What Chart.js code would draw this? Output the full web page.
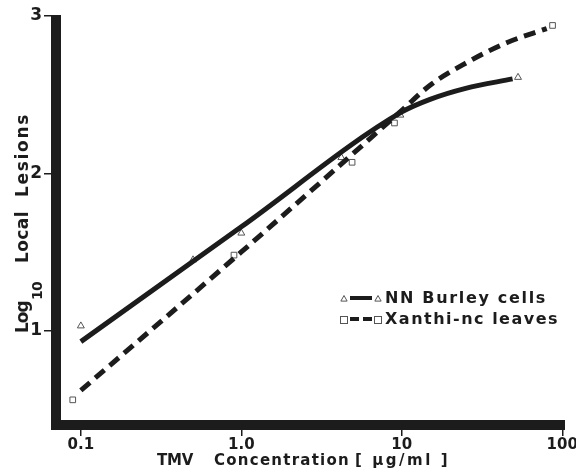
<!DOCTYPE html>
<html>
<head>
<meta charset="utf-8">
<script src="https://cdn.jsdelivr.net/npm/chart.js@4/dist/chart.umd.min.js"></script>
<style>
  html, body { margin: 0; background: #fff; }
</style>
</head>
<body>
<canvas id="chart" width="576" height="473"></canvas>
<script>
// measured points (TMV concentration, log10 lesions)
const burleyConc = [0.1, 0.5, 1.0, 4.2, 9.8, 53];
const burleyLog = [1.03, 1.45, 1.62, 2.10, 2.37, 2.61];
const xanthiConc = [0.089, 0.9, 4.9, 9.0, 87];
const xanthiLog = [0.56, 1.48, 2.07, 2.32, 2.94];

// hand-drawn fitted curves, knots
const burleyFitConc = [0.1, 1.0, 10, 15, 25, 49];
const burleyFitLog = [0.93, 1.66, 2.39, 2.47, 2.54, 2.60];
const xanthiFitConc = [0.1, 1.0, 10, 15, 25, 45, 80];
const xanthiFitLog = [0.62, 1.50, 2.40, 2.56, 2.70, 2.83, 2.92];

const xTicks = [0.1, 1, 10, 100];
const xTickLabels = ["0.1", "1.0", "10", "100"];
const yTicks = [1, 2, 3];

const INK = "#1c1c1c";
const FONT = "'DejaVu Sans', 'Open Sans', sans-serif";

const pts = (xs, ys) => xs.map((x, i) => ({ x, y: ys[i] }));

// thick L-shaped frame like the printed figure
const frame = {
  id: "frame",
  beforeDatasetsDraw(chart) {
    const { ctx, chartArea: a } = chart;
    ctx.save();
    ctx.strokeStyle = INK;
    ctx.lineWidth = 10;
    ctx.lineJoin = "miter";
    ctx.lineCap = "butt";
    ctx.beginPath();
    ctx.moveTo(a.left, a.top - 1);
    ctx.lineTo(a.left, a.bottom);
    ctx.lineTo(a.right, a.bottom);
    ctx.stroke();
    ctx.restore();
  },
};

// write text stretched by letter spacing to roughly the printed width
function fitText(ctx, txt, x, y, width) {
  ctx.letterSpacing = "0px";
  const natural = ctx.measureText(txt).width;
  const sp = Math.max(-1, (width - natural) / txt.length);
  ctx.letterSpacing = sp.toFixed(2) + "px";
  ctx.fillText(txt, x, y);
  ctx.letterSpacing = "0px";
}

const titles = {
  id: "titles",
  afterDraw(chart) {
    const { ctx } = chart;
    ctx.save();
    ctx.fillStyle = INK;
    ctx.textBaseline = "alphabetic";
    ctx.textAlign = "left";

    // x title
    ctx.font = `bold 15px ${FONT}`;
    fitText(ctx, "TMV", 157, 465, 36);
    fitText(ctx, "Concentration", 214, 465, 136);
    fitText(ctx, "[ \u00b5g/ml ]", 355, 465, 95);

    // y title: Log10 Local Lesions, rotated
    ctx.translate(28, 333);
    ctx.rotate(-Math.PI / 2);
    ctx.font = `bold 17px ${FONT}`;
    fitText(ctx, "Log", 0, 0, 30);
    ctx.font = `bold 14px ${FONT}`;
    fitText(ctx, "10", 33, 14, 18);
    ctx.font = `bold 17px ${FONT}`;
    fitText(ctx, "Local", 70, 0, 52);
    fitText(ctx, "Lesions", 136, 0, 84);
    ctx.restore();
  },
};

function triangle(ctx, x, y, r) {
  ctx.beginPath();
  ctx.moveTo(x, y - r);
  ctx.lineTo(x + r * 0.9, y + r * 0.6);
  ctx.lineTo(x - r * 0.9, y + r * 0.6);
  ctx.closePath();
  ctx.fill();
  ctx.stroke();
}

function square(ctx, x, y, r) {
  ctx.fillRect(x - r, y - r, 2 * r, 2 * r);
  ctx.strokeRect(x - r, y - r, 2 * r, 2 * r);
}

const keyBox = {
  id: "keyBox",
  afterDraw(chart) {
    const { ctx } = chart;
    const rows = [
      { y: 298, label: "NN Burley cells", width: 162, mark: triangle, dash: [] },
      { y: 319, label: "Xanthi-nc leaves", width: 174, mark: square, dash: [9, 4] },
    ];
    ctx.save();
    rows.forEach((r) => {
      ctx.strokeStyle = INK;
      ctx.lineWidth = 4;
      ctx.setLineDash(r.dash);
      ctx.beginPath();
      ctx.moveTo(350, r.y);
      ctx.lineTo(372, r.y);
      ctx.stroke();
      ctx.setLineDash([]);
      ctx.fillStyle = "#fff";
      ctx.strokeStyle = "#555";
      ctx.lineWidth = 1;
      r.mark(ctx, 344, r.y + 1, 3.5);
      r.mark(ctx, 378, r.y + 1, 3.5);
      ctx.fillStyle = INK;
      ctx.font = `bold 16px ${FONT}`;
      ctx.textBaseline = "middle";
      fitText(ctx, r.label, 385, r.y + 1, r.width);
    });
    ctx.restore();
  },
};

new Chart(document.getElementById("chart"), {
  type: "scatter",
  data: {
    datasets: [
      {
        label: "NN Burley fit",
        data: pts(burleyFitConc, burleyFitLog),
        showLine: true,
        borderColor: INK,
        borderWidth: 5,
        pointRadius: 0,
        cubicInterpolationMode: "monotone",
      },
      {
        label: "Xanthi-nc fit",
        data: pts(xanthiFitConc, xanthiFitLog),
        showLine: true,
        borderColor: INK,
        borderWidth: 5,
        borderDash: [12, 7],
        pointRadius: 0,
        cubicInterpolationMode: "monotone",
      },
      {
        label: "NN Burley cells",
        data: pts(burleyConc, burleyLog),
        pointStyle: "triangle",
        pointRadius: 4,
        borderWidth: 1,
        borderColor: "#555",
        backgroundColor: "#fff",
      },
      {
        label: "Xanthi-nc leaves",
        data: pts(xanthiConc, xanthiLog),
        pointStyle: "rect",
        pointRadius: 4,
        borderWidth: 1,
        borderColor: "#555",
        backgroundColor: "#fff",
      },
    ],
  },
  options: {
    responsive: false,
    animation: false,
    layout: { padding: { top: 16, right: 11, left: 0, bottom: 0 } },
    plugins: { legend: { display: false }, tooltip: { enabled: false } },
    scales: {
      x: {
        type: "logarithmic",
        min: 0.07,
        max: 104,
        afterBuildTicks: (s) => { s.ticks = xTicks.map((v) => ({ value: v })); },
        afterFit: (s) => { s.height = 48; s.paddingLeft = 0; s.paddingRight = 0; },
        border: { display: false },
        grid: { drawOnChartArea: false, drawTicks: true, tickLength: 11, color: INK, lineWidth: 1.5 },
        ticks: {
          autoSkip: false,
          maxRotation: 0,
          padding: 0,
          color: INK,
          font: { family: FONT, size: 15, weight: "bold" },
          callback: (v, i) => xTickLabels[i],
        },
      },
      y: {
        min: 0.4,
        max: 3.0,
        afterBuildTicks: (s) => { s.ticks = yTicks.map((v) => ({ value: v })); },
        afterFit: (s) => { s.width = 56; },
        border: { display: false },
        grid: { drawOnChartArea: false, drawTicks: true, tickLength: 12, color: INK, lineWidth: 1.5 },
        ticks: {
          padding: 2,
          color: INK,
          font: { family: FONT, size: 17, weight: "bold" },
          callback: (v) => String(v),
        },
      },
    },
  },
  plugins: [frame, titles, keyBox],
});
</script>
</body>
</html>
